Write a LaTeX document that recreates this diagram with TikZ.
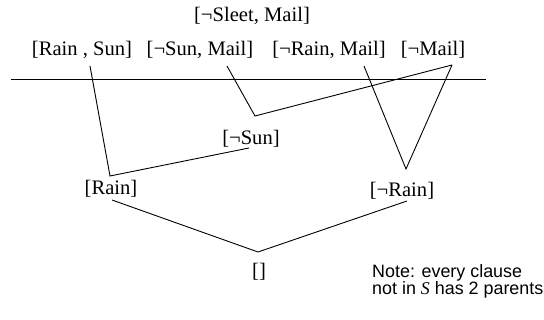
\documentclass[tikz,border=0pt]{standalone}
\usepackage{fontspec}
\setmainfont{Liberation Serif}
\newfontfamily\notefont{Liberation Sans}
\begin{document}
\begin{tikzpicture}[x=1pt,y=-1pt,
  clause/.style={inner sep=0pt,font=\fontsize{20.6}{24}\selectfont},
  note/.style={inner sep=0pt,align=left,font=\notefont\fontsize{17.9}{15.5}\selectfont},
  edge/.style={line width=0.9pt}]
\useasboundingbox (0,0) rectangle (544,320);
\node[clause] (sleet) at (252,16) {[¬Sleet, Mail]};
\node[clause] (rs) at (82,50) {[Rain , Sun]};
\node[clause] (snm) at (200,50) {[¬Sun, Mail]};
\node[clause] (nrm) at (329,50) {[¬Rain, Mail]};
\node[clause] (nm) at (433,50) {[¬Mail]};
\node[clause] (nsun) at (251,139) {[¬Sun]};
\node[clause] (rain) at (111,189) {[Rain]};
\node[clause] (nrain) at (402,191) {[¬Rain]};
\node[clause] (empty) at (259,272) {[]};
\node[note,anchor=north west] (note) at (372,264) {Note: every clause\\not in {\fontspec{Liberation Serif}\itshape S} has 2 parents};
\coordinate (hl) at (11,79.5);
\coordinate (hr) at (486,79.5);
\coordinate (rsB) at (90,66);
\coordinate (rainT) at (110,176);
\coordinate (nsunB) at (249,148);
\coordinate (snmB) at (227,66);
\coordinate (j1) at (255,116);
\coordinate (nmB) at (452,65);
\coordinate (nrmB) at (364,66);
\coordinate (nrainT) at (406,169);
\coordinate (rainB) at (112,200);
\coordinate (emptyT) at (258,252);
\coordinate (nrainB) at (407,201);
\draw[edge] (hl) -- (hr);
\draw[edge] (rsB) -- (rainT) -- (nsunB);
\draw[edge] (snmB) -- (j1) -- (nmB);
\draw[edge] (nrmB) -- (nrainT) -- (nmB);
\draw[edge] (rainB) -- (emptyT) -- (nrainB);
\end{tikzpicture}
\end{document}
